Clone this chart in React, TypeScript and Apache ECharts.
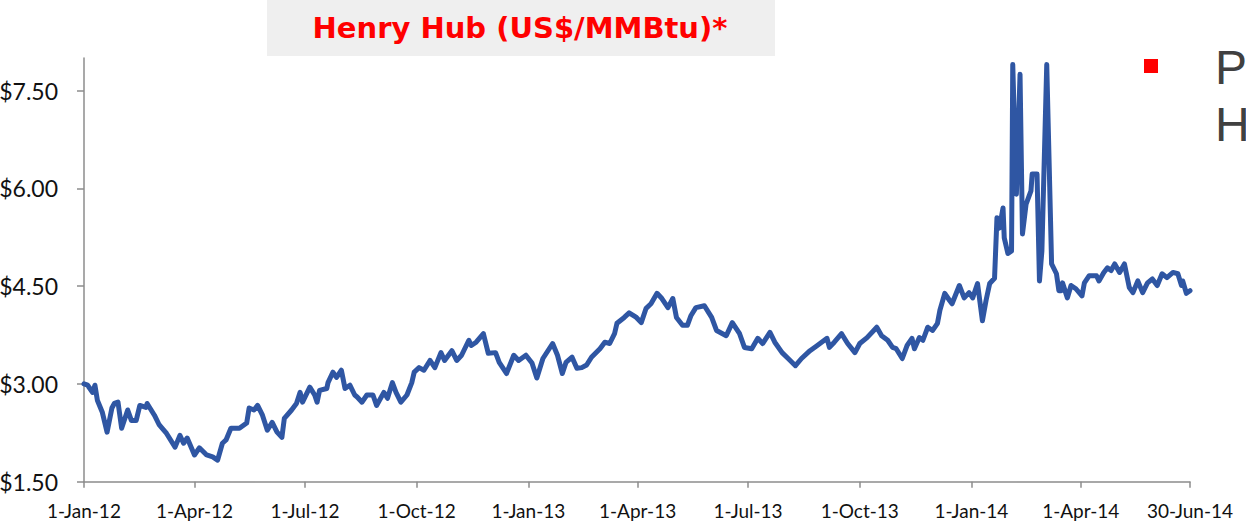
import React, { useEffect, useRef } from "react";
import * as echarts from "echarts";

const dates = [
  "2012-01-01","2012-01-04","2012-01-08","2012-01-10","2012-01-12","2012-01-16","2012-01-20","2012-01-24","2012-01-26","2012-01-29",
  "2012-02-01","2012-02-06","2012-02-09","2012-02-13","2012-02-16","2012-02-21","2012-02-22","2012-02-28","2012-03-03","2012-03-09",
  "2012-03-16","2012-03-20","2012-03-23","2012-03-26","2012-04-01","2012-04-05","2012-04-11","2012-04-16","2012-04-20","2012-04-24",
  "2012-04-27","2012-05-01","2012-05-08","2012-05-14","2012-05-16","2012-05-20","2012-05-23","2012-05-27","2012-05-31","2012-06-04",
  "2012-06-08","2012-06-12","2012-06-14","2012-06-20","2012-06-24","2012-06-27","2012-06-29","2012-07-05","2012-07-09","2012-07-11",
  "2012-07-13","2012-07-19","2012-07-20","2012-07-24","2012-07-27","2012-07-31","2012-08-03","2012-08-07","2012-08-11","2012-08-13",
  "2012-08-17","2012-08-21","2012-08-26","2012-08-29","2012-09-04","2012-09-07","2012-09-11","2012-09-14","2012-09-18","2012-09-23",
  "2012-09-27","2012-09-29","2012-10-03","2012-10-07","2012-10-12","2012-10-16","2012-10-21","2012-10-24","2012-10-30","2012-11-03",
  "2012-11-07","2012-11-13","2012-11-15","2012-11-19","2012-11-25","2012-11-29","2012-12-05","2012-12-08","2012-12-14","2012-12-20",
  "2012-12-24","2012-12-30",
  "2013-01-04","2013-01-08","2013-01-13","2013-01-21","2013-01-25","2013-01-29","2013-02-01","2013-02-06","2013-02-10","2013-02-14",
  "2013-02-18","2013-02-22","2013-03-01","2013-03-05","2013-03-09","2013-03-13","2013-03-15","2013-03-21","2013-03-25","2013-03-31",
  "2013-04-04","2013-04-08","2013-04-12","2013-04-17","2013-04-21","2013-04-26","2013-04-30","2013-05-03","2013-05-08","2013-05-12",
  "2013-05-15","2013-05-19","2013-05-26","2013-06-01","2013-06-05","2013-06-10","2013-06-13","2013-06-18","2013-06-24","2013-06-28",
  "2013-07-04","2013-07-09","2013-07-13","2013-07-19","2013-07-23","2013-07-29","2013-08-03","2013-08-09","2013-08-14","2013-08-21",
  "2013-08-27","2013-09-04","2013-09-06","2013-09-10","2013-09-16","2013-09-21","2013-09-27","2013-10-01","2013-10-07","2013-10-15",
  "2013-10-19","2013-10-24","2013-10-28","2013-10-31","2013-11-05","2013-11-09","2013-11-13","2013-11-15","2013-11-19","2013-11-22",
  "2013-11-26","2013-11-30","2013-12-04","2013-12-06","2013-12-10","2013-12-14","2013-12-16","2013-12-22","2013-12-26","2013-12-30",
  "2014-01-02","2014-01-06","2014-01-10","2014-01-13","2014-01-16","2014-01-20","2014-01-22","2014-01-24","2014-01-27","2014-01-28",
  "2014-01-31","2014-02-03","2014-02-04","2014-02-07","2014-02-10","2014-02-12","2014-02-15","2014-02-19","2014-02-20","2014-02-24",
  "2014-02-26","2014-02-28","2014-03-04","2014-03-08","2014-03-12","2014-03-14","2014-03-16","2014-03-17","2014-03-21","2014-03-24",
  "2014-03-28","2014-04-02","2014-04-04","2014-04-08","2014-04-14","2014-04-16","2014-04-20","2014-04-23","2014-04-26","2014-04-29",
  "2014-05-03","2014-05-07","2014-05-11","2014-05-14","2014-05-18","2014-05-22","2014-05-26","2014-05-30","2014-06-03","2014-06-07",
  "2014-06-11","2014-06-16","2014-06-20","2014-06-23","2014-06-24","2014-06-27","2014-06-30"
];

const prices = [
  3.00,2.98,2.87,2.98,2.75,2.57,2.26,2.63,2.70,2.72,
  2.32,2.60,2.44,2.44,2.67,2.64,2.70,2.52,2.37,2.24,
  2.03,2.21,2.09,2.17,1.91,2.02,1.91,1.88,1.83,2.09,
  2.14,2.32,2.32,2.40,2.63,2.60,2.67,2.52,2.29,2.41,
  2.26,2.18,2.47,2.60,2.70,2.87,2.72,2.95,2.83,2.72,
  2.90,2.93,3.02,3.18,3.10,3.21,2.93,2.98,2.83,2.80,
  2.72,2.83,2.83,2.67,2.87,2.78,3.02,2.87,2.72,2.83,
  3.02,3.18,3.25,3.21,3.36,3.25,3.48,3.36,3.51,3.36,
  3.44,3.67,3.59,3.64,3.77,3.47,3.48,3.33,3.16,3.44,
  3.36,3.44,
  3.32,3.09,3.39,3.62,3.44,3.16,3.33,3.41,3.24,3.25,
  3.29,3.41,3.54,3.64,3.62,3.77,3.93,4.02,4.09,4.02,
  3.94,4.16,4.23,4.39,4.31,4.17,4.31,4.02,3.90,3.90,
  4.05,4.17,4.20,4.02,3.82,3.77,3.74,3.94,3.77,3.56,
  3.54,3.70,3.62,3.79,3.64,3.48,3.39,3.28,3.39,3.51,
  3.59,3.70,3.56,3.64,3.77,3.62,3.48,3.62,3.71,3.87,
  3.74,3.67,3.56,3.54,3.39,3.59,3.70,3.54,3.71,3.67,
  3.87,3.82,3.93,4.13,4.39,4.28,4.23,4.51,4.32,4.40,
  4.32,4.54,3.97,4.28,4.54,4.62,5.55,5.39,5.70,5.24,
  5.00,5.04,7.90,5.91,7.75,5.30,5.76,5.96,6.22,6.22,
  4.58,5.04,7.90,4.84,4.69,4.43,4.43,4.55,4.32,4.51,
  4.46,4.35,4.55,4.66,4.66,4.58,4.71,4.78,4.74,4.84,
  4.71,4.84,4.48,4.40,4.58,4.40,4.55,4.61,4.51,4.69,
  4.63,4.71,4.69,4.51,4.58,4.39,4.43
];

const tickDates = [
  "2012-01-01","2012-04-01","2012-07-01","2012-10-01","2013-01-01","2013-04-01",
  "2013-07-01","2013-10-01","2014-01-01","2014-04-01","2014-06-30"
];
const yTicks = [1.5, 3, 4.5, 6, 7.5];
const MONTHS = ["Jan","Feb","Mar","Apr","May","Jun","Jul","Aug","Sep","Oct","Nov","Dec"];
const titleText = "Henry Hub (US$/MMBtu)*";
const legendLines = ["Price", "Henry Hub"];

function toTime(s: string): number {
  const [y, m, d] = s.split("-").map(Number);
  return Date.UTC(y, m - 1, d);
}

export default function App() {
  const ref = useRef<HTMLDivElement>(null);
  useEffect(() => {
    if (!ref.current) return;
    const chart = echarts.init(ref.current, undefined, { renderer: "svg" });
    const tickTimes = tickDates.map(toTime);
    const axisColor = "#8c8c8c";
    chart.setOption({
      animation: false,
      backgroundColor: "#ffffff",
      grid: { left: 84, right: 56, top: 58, bottom: 43.3, containLabel: false, outerBoundsMode: "none" },
      xAxis: {
        type: "value",
        min: tickTimes[0],
        max: tickTimes[tickTimes.length - 1],
        axisLine: { show: true, onZero: false, lineStyle: { color: axisColor, width: 1.5 } },
        axisTick: { show: true, customValues: tickTimes, length: 6, lineStyle: { color: axisColor, width: 1.5 } },
        axisLabel: {
          customValues: tickTimes,
          formatter: (v: number) => {
            const d = new Date(v);
            return `${d.getUTCDate()}-${MONTHS[d.getUTCMonth()]}-${String(d.getUTCFullYear()).slice(2)}`;
          },
          fontFamily: "Lato",
          fontSize: 19,
          color: "#111",
          margin: 19,
        },
        splitLine: { show: false },
      },
      yAxis: {
        type: "value",
        min: 1.5,
        max: 8,
        interval: 1.5,
        axisLine: { show: true, onZero: false, lineStyle: { color: axisColor, width: 1.5 } },
        axisTick: { show: true, customValues: yTicks, length: 7, lineStyle: { color: axisColor, width: 1.5 } },
        axisLabel: {
          customValues: yTicks,
          formatter: (v: number) => "$" + v.toFixed(2),
          fontFamily: "Lato",
          fontSize: 23,
          color: "#111",
          margin: 26,
        },
        splitLine: { show: false },
      },
      series: [
        {
          type: "line",
          data: dates.map((d, i) => [toTime(d), prices[i]]),
          showSymbol: false,
          symbol: "none",
          lineStyle: { color: "#2f56a3", width: 5, join: "round", cap: "round" },
          itemStyle: { color: "#2f56a3" },
        },
      ],
      graphic: [
        { type: "rect", shape: { x: 267, y: 0, width: 508, height: 56 }, style: { fill: "#efefef" }, z: 0 },
        {
          type: "text",
          x: 520,
          y: 28,
          style: {
            text: titleText,
            fill: "#ff0000",
            font: 'bold 29px "DejaVu Sans"',
            textAlign: "center",
            textVerticalAlign: "middle",
          },
          z: 1,
        },
        { type: "rect", shape: { x: 1144, y: 59, width: 14, height: 14 }, style: { fill: "#ff0000" } },
        {
          type: "text",
          x: 1215,
          y: 67,
          style: {
            text: legendLines[0],
            fill: "#404040",
            font: '48px "Liberation Sans"',
            textAlign: "left",
            textVerticalAlign: "middle",
          },
        },
        {
          type: "text",
          x: 1215,
          y: 124,
          style: {
            text: legendLines[1],
            fill: "#404040",
            font: '48px "Liberation Sans"',
            textAlign: "left",
            textVerticalAlign: "middle",
          },
        },
      ],
    });
    return () => chart.dispose();
  }, []);
  return (
    <div
      ref={ref}
      style={{ position: "fixed", left: 0, top: 0, width: 1246, height: 525, background: "#fff" }}
    />
  );
}
